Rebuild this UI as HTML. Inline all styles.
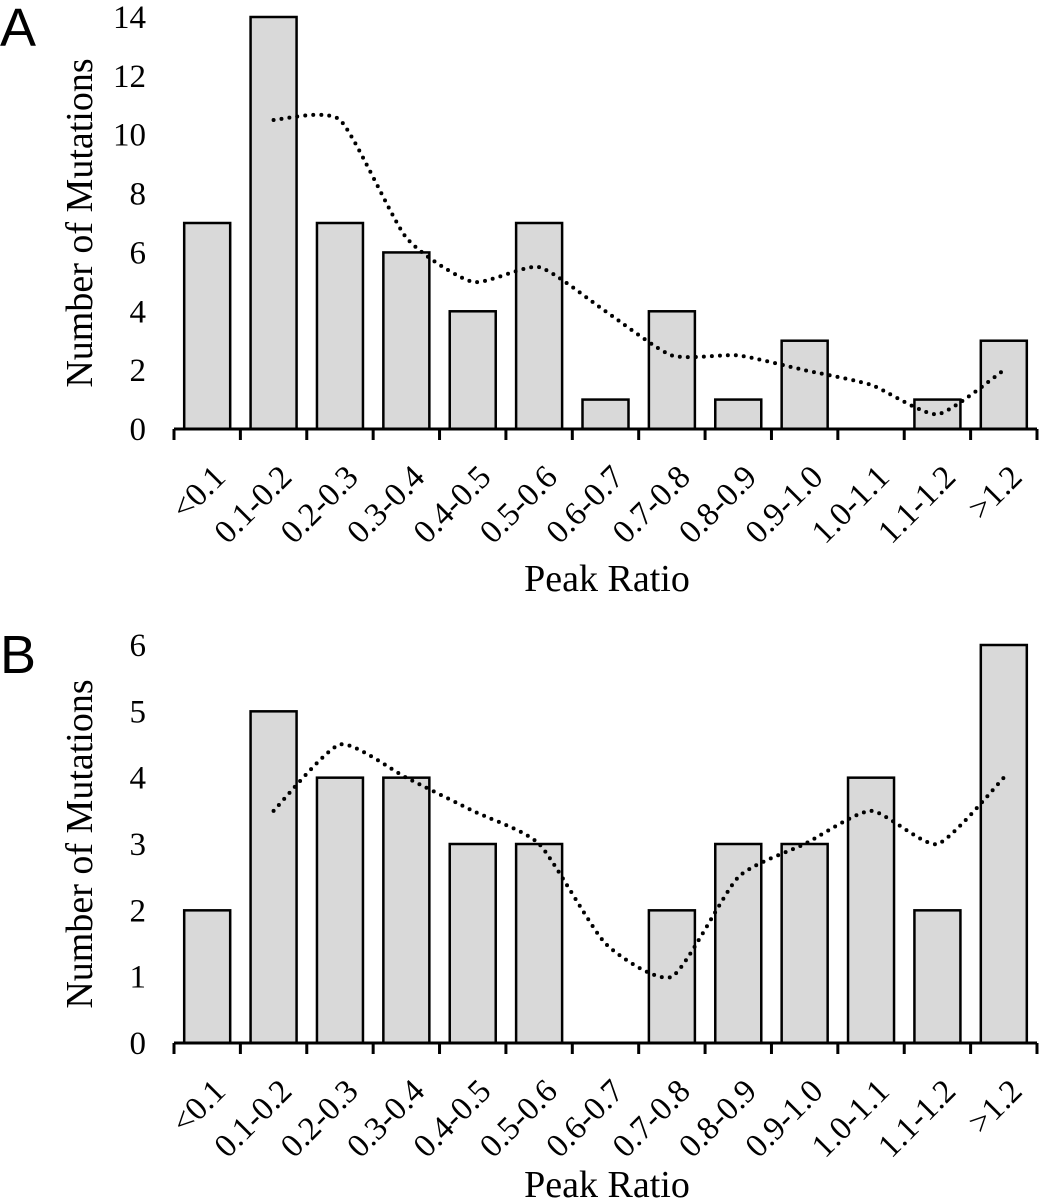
<!DOCTYPE html>
<html><head><meta charset="utf-8"><style>
html,body{margin:0;padding:0;background:#fff;width:1042px;height:1200px;overflow:hidden}
svg{display:block}
text{font-family:"Liberation Serif",serif;fill:#000}
</style></head><body>
<svg id="s" width="1042" height="1200" viewBox="0 0 1042 1200" xmlns="http://www.w3.org/2000/svg">
<text x="0" y="46" style="font-family:'Liberation Sans',sans-serif;font-size:54px">A</text>
<text x="0" y="673" style="font-family:'Liberation Sans',sans-serif;font-size:54px">B</text>
</svg>
<script>
const categories=["<0.1","0.1-0.2","0.2-0.3","0.3-0.4","0.4-0.5","0.5-0.6","0.6-0.7","0.7-0.8","0.8-0.9","0.9-1.0","1.0-1.1","1.1-1.2",">1.2"];
const valuesA=[7,14,7,6,4,7,1,4,1,3,0,1,3];
const trendA=[10.5,10.5,6.5,5,5.5,4,2.5,2.5,2,1.5,0.5,2];
const ticksA=[0,2,4,6,8,10,12,14];
const valuesB=[2,5,4,4,3,3,0,2,3,3,4,2,6];
const trendB=[3.5,4.5,4,3.5,3,1.5,1,2.5,3,3.5,3,4];
const ticksB=[0,1,2,3,4,5,6];

const NS="http://www.w3.org/2000/svg";
const svg=document.getElementById('s');
function mk(tag,attrs,parent){const e=document.createElementNS(NS,tag);for(const k in attrs)e.setAttribute(k,attrs[k]);(parent||svg).appendChild(e);return e;}

function chart(id,vals,trend,ticks,y0,yTop,maxV,titleY){
  const x0=174,x1=1037,step=(x1-x0)/categories.length;
  const xc=i=>x0+step*(i+0.5);
  const ys=v=>y0-(y0-yTop)*v/maxV;
  const g=mk('g',{});
  
  
  vals.forEach((v,i)=>{
    const b=mk('rect',{x:xc(i)-23,y:ys(v),width:46,height:y0-ys(v),fill:'#d9d9d9',stroke:'#000','stroke-width':2.5},g);
    
    
  });
  const ax=mk('line',{x1:x0,y1:y0,x2:x1,y2:y0,stroke:'#000','stroke-width':3},g);
  
  
  for(let i=0;i<=categories.length;i++){
    mk('line',{x1:x0+step*i,y1:y0,x2:x0+step*i,y2:y0+11,stroke:'#000','stroke-width':3},g);
  }
  ticks.forEach(t=>{
    const tl=mk('text',{x:146,y:ys(t)+11,'text-anchor':'end','font-size':'33px'},g);
    tl.textContent=t;
    
    
  });
  categories.forEach((c,i)=>{
    const cx=xc(i)+20,cy=y0+50;
    const tl=mk('text',{x:cx,y:cy,'text-anchor':'end','font-size':'33px',transform:`rotate(-45 ${cx} ${cy})`},g);
    tl.textContent=c;
    
    
  });
  const pts=trend.map((v,i)=>[xc(i+1),ys(v)]);
  let d=`M${pts[0][0]},${pts[0][1]}`;
  for(let i=0;i<pts.length-1;i++){
    const p0=pts[Math.max(0,i-1)],p1=pts[i],p2=pts[i+1],p3=pts[Math.min(pts.length-1,i+2)];
    const t=1/10;
    d+=` C${p1[0]+(p2[0]-p0[0])*t},${p1[1]+(p2[1]-p0[1])*t} ${p2[0]-(p3[0]-p1[0])*t},${p2[1]-(p3[1]-p1[1])*t} ${p2[0]},${p2[1]}`;
  }
  const tr=mk('path',{d:d,fill:'none',stroke:'#000','stroke-width':4,'stroke-linecap':'round','stroke-dasharray':'0 8'},g);
  
  
  const my=(y0+yTop)/2;
  const yt=mk('text',{x:92,y:my,'text-anchor':'middle','font-size':'38px',transform:`rotate(-90 92 ${my})`},g);
  yt.textContent='Number of Mutations';
  
  
  const xt=mk('text',{x:607,y:titleY,'text-anchor':'middle','font-size':'38px'},g);
  xt.textContent='Peak Ratio';
  
  
}
chart('a',valuesA,trendA,ticksA,429,17,14,591);
chart('b',valuesB,trendB,ticksB,1043,645,6,1197);
</script>
</body></html>
